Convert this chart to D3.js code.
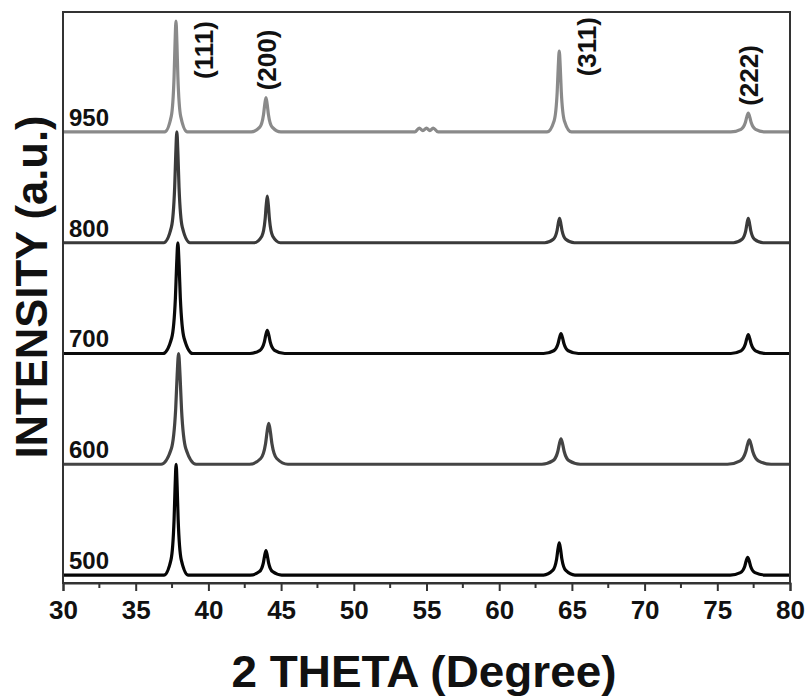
<!DOCTYPE html>
<html>
<head>
<meta charset="utf-8">
<script src="https://cdn.jsdelivr.net/npm/d3@7"></script>
<style>
  body { margin: 0; background: #fff; }
  text { font-family: "Liberation Sans", Arial, sans-serif; font-weight: bold; }
</style>
</head>
<body>
<svg></svg>
<script>
// XRD patterns, stacked by annealing temperature

var temps = ["500", "600", "700", "800", "950"];
var offsets = [0, 1, 2, 3, 4];
var colors = ["#050505", "#444444", "#0a0a0a", "#3a3a3a", "#8a8a8a"];

// [2theta, normalised intensity]
var s500 = [[30,0],
  [36.94,0],[37.43,0.14],[37.64,0.5],[37.71,0.8],[37.78,1.0],[37.85,0.8],[37.92,0.5],[38.13,0.14],[38.62,0],
  [42.88,0],[43.51,0.031],[43.78,0.11],[43.87,0.176],[43.96,0.22],[44.05,0.176],[44.14,0.11],[44.41,0.031],[45.04,0],
  [63.05,0],[63.68,0.041],[63.95,0.145],[64.04,0.232],[64.13,0.29],[64.22,0.232],[64.31,0.145],[64.58,0.041],[65.21,0],
  [75.89,0],[76.59,0.022],[76.89,0.08],[76.99,0.128],[77.09,0.16],[77.19,0.128],[77.29,0.08],[77.59,0.022],[78.29,0],
  [80,0]];

var s600 = [[30,0],
  [36.75,0],[37.45,0.14],[37.75,0.5],[37.85,0.8],[37.95,1.0],[38.05,0.8],[38.15,0.5],[38.45,0.14],[39.15,0],
  [42.83,0],[43.6,0.052],[43.93,0.185],[44.04,0.296],[44.15,0.37],[44.26,0.296],[44.37,0.185],[44.7,0.052],[45.47,0],
  [62.93,0],[63.7,0.032],[64.03,0.115],[64.14,0.184],[64.25,0.23],[64.36,0.184],[64.47,0.115],[64.8,0.032],[65.57,0],
  [75.7,0],[76.575,0.031],[76.95,0.11],[77.075,0.176],[77.2,0.22],[77.325,0.176],[77.45,0.11],[77.825,0.031],[78.7,0],
  [80,0]];

var s700 = [[30,0],
  [36.88,0],[37.475,0.14],[37.73,0.5],[37.815,0.8],[37.9,1.0],[37.985,0.8],[38.07,0.5],[38.325,0.14],[38.92,0],
  [42.85,0],[43.55,0.029],[43.85,0.105],[43.95,0.168],[44.05,0.21],[44.15,0.168],[44.25,0.105],[44.55,0.029],[45.25,0],
  [63.05,0],[63.75,0.025],[64.05,0.09],[64.15,0.144],[64.25,0.18],[64.35,0.144],[64.45,0.09],[64.75,0.025],[65.45,0],
  [75.93,0],[76.63,0.024],[76.93,0.085],[77.03,0.136],[77.13,0.17],[77.23,0.136],[77.33,0.085],[77.63,0.024],[78.33,0],
  [80,0]];

var s800 = [[30,0],
  [36.93,0],[37.455,0.14],[37.68,0.5],[37.755,0.8],[37.83,1.0],[37.905,0.8],[37.98,0.5],[38.205,0.14],[38.73,0],
  [43.15,0],[43.675,0.059],[43.9,0.21],[43.975,0.336],[44.05,0.42],[44.125,0.336],[44.2,0.21],[44.425,0.059],[44.95,0],
  [63.13,0],[63.725,0.031],[63.98,0.11],[64.065,0.176],[64.15,0.22],[64.235,0.176],[64.32,0.11],[64.575,0.031],[65.17,0],
  [76.11,0],[76.705,0.031],[76.96,0.11],[77.045,0.176],[77.13,0.22],[77.215,0.176],[77.3,0.11],[77.555,0.031],[78.15,0],
  [80,0]];

var s950 = [[30,0],
  [36.99,0],[37.445,0.14],[37.64,0.5],[37.705,0.8],[37.77,1.0],[37.835,0.8],[37.9,0.5],[38.095,0.14],[38.55,0],
  [42.94,0],[43.535,0.043],[43.79,0.155],[43.875,0.248],[43.96,0.31],[44.045,0.248],[44.13,0.155],[44.385,0.043],[44.98,0],
  [54.2,0],[54.5,0.035],[54.75,0.012],[55.0,0.035],[55.23,0.012],[55.46,0.035],[55.8,0],
  [63.29,0],[63.78,0.102],[63.99,0.365],[64.06,0.584],[64.13,0.73],[64.2,0.584],[64.27,0.365],[64.48,0.102],[64.97,0],
  [75.93,0],[76.63,0.024],[76.93,0.085],[77.03,0.136],[77.13,0.17],[77.23,0.136],[77.33,0.085],[77.63,0.024],[78.33,0],
  [80,0]];

var series = [s500, s600, s700, s800, s950];

var hklLabels = ["(111)", "(200)", "(311)", "(222)"];
var hklAt = [[40.32, 4.74], [44.65, 4.65], [66.66, 4.77], [77.8, 4.51]];

var xTicks = [30, 35, 40, 45, 50, 55, 60, 65, 70, 75, 80];
var xMinor = [32.5, 37.5, 42.5, 47.5, 52.5, 57.5, 62.5, 67.5, 72.5, 77.5];

var svgWidth = 806, svgHeight = 700;
var plotLeft = 63, plotRight = 790, plotTop = 12, plotBottom = 583;

var svg = d3.select("svg")
    .attr("width", svgWidth)
    .attr("height", svgHeight);

var xscale = d3.scaleLinear()
    .domain([30, 80])
    .range([plotLeft, plotRight]);

var yscale = d3.scaleLinear()
    .domain([-0.072, 5.083])
    .range([plotBottom, plotTop]);

var line = d3.line()
    .x(function(d) { return xscale(d[0]); })
    .y(function(d) { return yscale(d[1]); })
    .curve(d3.curveMonotoneX);

// traces
svg.selectAll("path.trace")
    .data(series)
    .enter()
    .append("path")
    .attr("class", "trace")
    .attr("d", function(d, i) {
        return line(d.map(function(p) { return [p[0], p[1] + offsets[i]]; }));
    })
    .attr("fill", "none")
    .attr("stroke", function(d, i) { return colors[i]; })
    .attr("stroke-width", 3.2)
    .attr("stroke-linejoin", "round");

// frame
svg.append("rect")
    .attr("x", plotLeft)
    .attr("y", plotTop)
    .attr("width", plotRight - plotLeft)
    .attr("height", plotBottom - plotTop)
    .attr("fill", "none")
    .attr("stroke", "#333")
    .attr("stroke-width", 2);

// x axis
var xAxis = svg.append("g")
    .attr("transform", "translate(0," + plotBottom + ")")
    .call(d3.axisBottom(xscale).tickValues(xTicks).tickSize(8).tickPadding(10).tickFormat(d3.format("d")));

xAxis.select(".domain").attr("stroke", "#333").attr("stroke-width", 2);
xAxis.selectAll(".tick line").attr("stroke", "#333").attr("stroke-width", 2);
xAxis.selectAll(".tick text")
    .attr("fill", "#111")
    .style("font-size", "26px");

svg.append("g")
    .attr("transform", "translate(0," + plotBottom + ")")
    .selectAll("line")
    .data(xMinor)
    .enter()
    .append("line")
    .attr("x1", function(d) { return xscale(d); })
    .attr("x2", function(d) { return xscale(d); })
    .attr("y1", 0)
    .attr("y2", 5)
    .attr("stroke", "#333")
    .attr("stroke-width", 2);

// temperature labels
svg.selectAll("text.temp")
    .data(temps)
    .enter()
    .append("text")
    .attr("class", "temp")
    .attr("x", 69)
    .attr("y", function(d, i) { return yscale(offsets[i]) - 6; })
    .attr("fill", "#111")
    .style("font-size", "24px")
    .text(function(d) { return d; });

// peak labels
svg.selectAll("text.hkl")
    .data(hklLabels)
    .enter()
    .append("text")
    .attr("class", "hkl")
    .attr("transform", function(d, i) {
        return "translate(" + xscale(hklAt[i][0]) + "," + yscale(hklAt[i][1]) + ") rotate(-90)";
    })
    .attr("text-anchor", "middle")
    .attr("fill", "#111")
    .style("font-size", "26px")
    .text(function(d) { return d; });

// axis titles
svg.append("text")
    .attr("x", 424)
    .attr("y", 687)
    .attr("text-anchor", "middle")
    .attr("textLength", 385)
    .attr("lengthAdjust", "spacingAndGlyphs")
    .attr("fill", "#111")
    .style("font-size", "44px")
    .text("2 THETA (Degree)");

svg.append("text")
    .attr("transform", "translate(47,287) rotate(-90)")
    .attr("text-anchor", "middle")
    .attr("textLength", 343)
    .attr("lengthAdjust", "spacingAndGlyphs")
    .attr("fill", "#111")
    .style("font-size", "44px")
    .text("INTENSITY (a.u.)");
</script>
</body>
</html>
